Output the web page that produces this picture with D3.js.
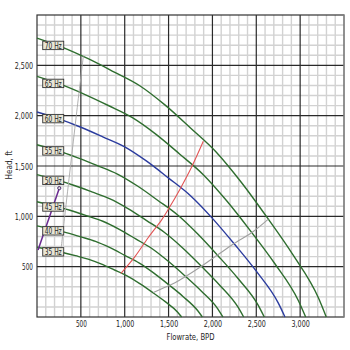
<!DOCTYPE html>
<html>
<head>
<meta charset="utf-8">
<script src="https://cdn.jsdelivr.net/npm/d3@7"></script>
<style>
  body { margin: 0; background: #fff; }
  text { font-family: "DejaVu Sans", sans-serif; font-stretch: condensed; }
</style>
</head>
<body>
<div class="wrapper"></div>
<script>
// pump curves: [flowrate BPD, head ft]
var hz70 = [[0,2771],[292,2679],[583,2566],[875,2436],[1167,2300],[1458,2107],[1750,1878],[2042,1640],[2333,1334],[2625,987],[2917,619],[3208,191],[3298,0]];
var hz65 = [[0,2390],[271,2310],[542,2212],[813,2101],[1083,1983],[1354,1817],[1625,1620],[1896,1414],[2167,1150],[2438,851],[2708,534],[2979,164],[3063,0]];
var hz60 = [[0,2036],[250,1968],[500,1885],[750,1790],[1000,1690],[1250,1548],[1500,1380],[1750,1205],[2000,980],[2250,725],[2500,455],[2750,140],[2827,0]];
var hz55 = [[0,1711],[229,1654],[458,1584],[688,1504],[917,1420],[1146,1301],[1375,1160],[1604,1013],[1833,824],[2063,609],[2292,382],[2521,118],[2591,0]];
var hz50 = [[0,1414],[208,1367],[417,1309],[625,1243],[833,1174],[1042,1075],[1250,958],[1458,837],[1667,681],[1875,503],[2083,316],[2292,97],[2356,0]];
var hz45 = [[0,1145],[188,1107],[375,1060],[563,1007],[750,951],[938,871],[1125,776],[1313,678],[1500,551],[1688,408],[1875,256],[2063,79],[2120,0]];
var hz40 = [[0,905],[167,875],[333,838],[500,796],[667,751],[833,688],[1000,613],[1167,536],[1333,436],[1500,322],[1667,202],[1833,62],[1885,0]];
var hz35 = [[0,693],[146,670],[292,641],[438,609],[583,575],[729,527],[875,470],[1021,410],[1167,334],[1313,247],[1458,155],[1604,48],[1649,0]];

var curves = [hz35, hz40, hz45, hz50, hz55, hz60, hz65, hz70];
var labels = ["35 Hz", "40 Hz", "45 Hz", "50 Hz", "55 Hz", "60 Hz", "65 Hz", "70 Hz"];

// operating range lines
var minFlow = [[957,434],[1117,600],[1269,790],[1421,965],[1497,1070],[1630,1270],[1763,1490],[1896,1745]];
var maxFlow = [[1326,244],[1459,295],[1573,340],[1858,494],[2086,633],[2238,725],[2466,850],[2637,972]];
var leftLine = [[528,2590],[448,2000],[382,1500],[316,1000],[275,680]];
var opPoint = [[12,665],[254,1280]];

var xTicks = [500, 1000, 1500, 2000, 2500, 3000];
var yTicks = [500, 1000, 1500, 2000, 2500];

var w = 350, h = 350,
    margin = {top: 15, right: 6, bottom: 33, left: 37};

var svg = d3.select(".wrapper").append("svg")
    .attr("width", w)
    .attr("height", h);

var x = d3.scaleLinear().domain([0, 3500]).range([margin.left, w - margin.right]);
var y = d3.scaleLinear().domain([0, 3000]).range([h - margin.bottom, margin.top]);

// squeeze text to the narrow face of the original
function narrow(sel, perChar) {
  sel.attr("lengthAdjust", "spacingAndGlyphs")
     .attr("textLength", function() { return this.textContent.length * perChar; });
}

var grid = svg.append("g");

// minor grid every 100
grid.selectAll(".vmin")
    .data(d3.range(100, 3500, 100).filter(function(d) { return d % 500; }))
  .enter().append("line")
    .attr("x1", function(d) { return x(d); }).attr("x2", function(d) { return x(d); })
    .attr("y1", y(0)).attr("y2", y(3000))
    .attr("stroke", "#d2d2d2").attr("stroke-width", 1.4);
grid.selectAll(".hmin")
    .data(d3.range(100, 3000, 100).filter(function(d) { return d % 500; }))
  .enter().append("line")
    .attr("y1", function(d) { return y(d); }).attr("y2", function(d) { return y(d); })
    .attr("x1", x(0)).attr("x2", x(3500))
    .attr("stroke", "#d2d2d2").attr("stroke-width", 1.4);

// major grid every 500
grid.selectAll(".vmaj")
    .data(d3.range(500, 3500, 500))
  .enter().append("line")
    .attr("x1", function(d) { return x(d); }).attr("x2", function(d) { return x(d); })
    .attr("y1", y(0)).attr("y2", y(3000))
    .attr("stroke", "#2a2a2a").attr("stroke-width", 1.2);
grid.selectAll(".hmaj")
    .data(d3.range(500, 3000, 500))
  .enter().append("line")
    .attr("y1", function(d) { return y(d); }).attr("y2", function(d) { return y(d); })
    .attr("x1", x(0)).attr("x2", x(3500))
    .attr("stroke", "#2a2a2a").attr("stroke-width", 1.2);

// frame
svg.append("rect")
    .attr("x", x(0)).attr("y", y(3000))
    .attr("width", x(3500) - x(0)).attr("height", y(0) - y(3000))
    .attr("fill", "none").attr("stroke", "#333").attr("stroke-width", 1.2);
svg.append("line")
    .attr("x1", x(3500)).attr("x2", x(3500)).attr("y1", y(0)).attr("y2", y(3000))
    .attr("stroke", "#999").attr("stroke-width", 1.2);

var line = d3.line()
    .x(function(d) { return x(d[0]); })
    .y(function(d) { return y(d[1]); })
    .curve(d3.curveMonotoneX);

var plot = svg.append("g");

plot.selectAll(".pump")
    .data(curves)
  .enter().append("path")
    .attr("d", line)
    .attr("fill", "none")
    .attr("stroke", function(d, i) { return labels[i] == "60 Hz" ? "#2b3c9e" : "#2f6e2f"; })
    .attr("stroke-width", 1.4);

var smooth = d3.line()
    .x(function(d) { return x(d[0]); })
    .y(function(d) { return y(d[1]); })
    .curve(d3.curveCatmullRom);

plot.append("path").attr("d", smooth(minFlow))
    .attr("fill", "none").attr("stroke", "#e25555").attr("stroke-width", 1.1);
plot.append("path").attr("d", smooth(maxFlow))
    .attr("fill", "none").attr("stroke", "#a0a0a0").attr("stroke-width", 1.1);
plot.append("path").attr("d", smooth(leftLine))
    .attr("fill", "none").attr("stroke", "#a8a8a8").attr("stroke-width", 0.9);
plot.append("path").attr("d", smooth(opPoint))
    .attr("fill", "none").attr("stroke", "#6a2a90").attr("stroke-width", 1.5);
plot.append("circle")
    .attr("cx", x(opPoint[1][0])).attr("cy", y(opPoint[1][1]))
    .attr("r", 1.6)
    .attr("fill", "#ddd").attr("stroke", "#4a2a6a").attr("stroke-width", 1);

// speed labels sitting on each curve near the left edge
var labelQ = 185;
function headAt(pts, q) {
  for (var i = 1; i < pts.length; i++) {
    if (pts[i][0] >= q) {
      var t = (q - pts[i-1][0]) / (pts[i][0] - pts[i-1][0]);
      return pts[i-1][1] + t * (pts[i][1] - pts[i-1][1]);
    }
  }
  return 0;
}

var tags = svg.append("g").selectAll("g")
    .data(curves)
  .enter().append("g")
    .attr("transform", function(d) { return "translate(" + x(labelQ) + "," + (y(headAt(d, labelQ)) + 1.5) + ")"; });
tags.append("rect")
    .attr("x", -10.5).attr("y", -4.2)
    .attr("width", 21).attr("height", 8.4)
    .attr("fill", "#e9e6d6").attr("stroke", "#333").attr("stroke-width", 0.9);
tags.append("text")
    .attr("x", -8.5)
    .attr("y", 3.2)
    .attr("font-size", 8.5)
    .attr("fill", "#1e1e1e")
    .text(function(d, i) { return labels[i]; })
    .call(narrow, 3.4);

// axes
var fmt = d3.format(",");
var xAxis = svg.append("g")
    .attr("transform", "translate(0," + y(0) + ")")
    .call(d3.axisBottom(x).tickValues(xTicks).tickSize(0).tickPadding(3.5).tickFormat(fmt));
var yAxis = svg.append("g")
    .attr("transform", "translate(" + x(0) + ",0)")
    .call(d3.axisLeft(y).tickValues(yTicks).tickSize(0).tickPadding(4).tickFormat(fmt));
[xAxis, yAxis].forEach(function(a) {
  a.select(".domain").remove();
  a.selectAll("text")
      .attr("font-size", 9.5)
      .attr("font-family", null)
      .attr("fill", "#1e1e1e")
      .call(narrow, 3.65);
});

svg.append("text")
    .attr("x", (x(0) + x(3500)) / 2)
    .attr("y", 339.5)
    .attr("text-anchor", "middle")
    .attr("font-size", 9.5)
    .attr("fill", "#1e1e1e")
    .text("Flowrate, BPD")
    .call(narrow, 3.7);

svg.append("text")
    .attr("transform", "translate(12,165) rotate(-90)")
    .attr("text-anchor", "middle")
    .attr("font-size", 9.5)
    .attr("fill", "#1e1e1e")
    .text("Head, ft")
    .call(narrow, 3.6);
</script>
</body>
</html>
